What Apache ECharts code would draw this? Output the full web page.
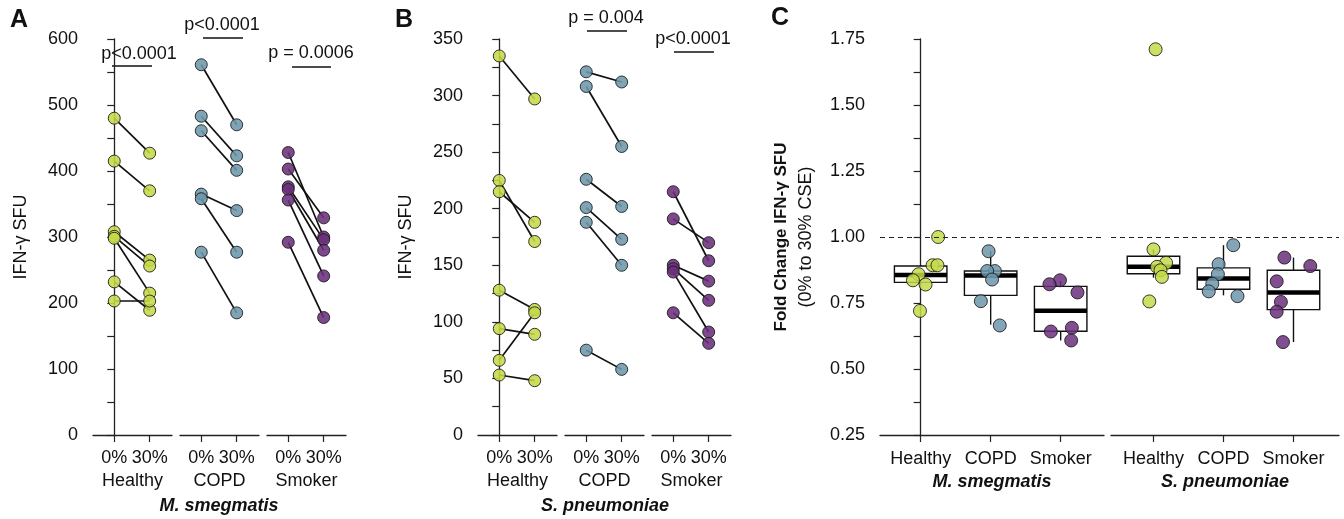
<!DOCTYPE html>
<html>
<head>
<meta charset="utf-8">
<script src="https://cdn.jsdelivr.net/npm/echarts@6/dist/echarts.min.js"></script>
<style>
html,body{margin:0;padding:0;background:#fff}
#main{width:1344px;height:519px}
</style>
</head>
<body>
<div id="main"></div>
<script>
var groups = ['Healthy', 'COPD', 'Smoker'];
var doses = ['0%', '30%'];
var colors = ['#c6da48', '#6c97ab', '#6b2f7c'];

// A: M. smegmatis IFN-g SFU, paired 0% -> 30%
var smeg0 = [
	[480, 415, 308, 301, 298, 232, 203],
	[561, 483, 461, 365, 358, 277],
	[428, 403, 376, 372, 356, 292]
];
var smeg30 = [
	[427, 370, 265, 256, 215, 189, 203],
	[470, 423, 401, 340, 277, 185],
	[300, 329, 296, 280, 241, 178]
];
// B: S. pneumoniae IFN-g SFU
var pneu0 = [
	[335, 225, 215, 128, 94, 66, 53],
	[321, 308, 226, 201, 188, 75],
	[215, 191, 150, 147, 144, 108]
];
var pneu30 = [
	[297, 171, 188, 111, 89, 108, 48],
	[312, 255, 202, 173, 150, 58],
	[154, 170, 136, 119, 91, 81]
];
// C: fold change, box stats [low, q1, median, q3, high]
var smegBox = [[0.82, 0.828, 0.856, 0.890, 0.893], [0.668, 0.779, 0.854, 0.871, 0.946], [0.608, 0.643, 0.721, 0.813, 0.833]];
var pneuBox = [[0.846, 0.861, 0.887, 0.927, 0.953], [0.779, 0.802, 0.843, 0.883, 0.969], [0.602, 0.725, 0.79, 0.874, 0.922]];
var smegFold = [
	[1.00, 0.893, 0.893, 0.859, 0.836, 0.82, 0.72],
	[0.946, 0.871, 0.871, 0.839, 0.757, 0.665],
	[0.836, 0.821, 0.79, 0.656, 0.642, 0.608]
];
var pneuFold = [
	[1.711, 0.953, 0.902, 0.887, 0.874, 0.849, 0.756],
	[0.969, 0.897, 0.859, 0.823, 0.794, 0.776],
	[0.922, 0.89, 0.832, 0.754, 0.717, 0.602]
];
// horizontal jitter of the dots
var smegJitter = [
	[0.25, 0.17, 0.24, -0.03, -0.11, 0.07, -0.01],
	[-0.03, 0.06, -0.05, 0.02, -0.14, 0.13],
	[-0.01, -0.16, 0.24, 0.16, -0.14, 0.15]
];
var pneuJitter = [
	[0.03, 0, 0.18, 0.05, 0.1, 0.12, -0.06],
	[0.14, -0.07, -0.08, -0.16, -0.21, 0.2],
	[-0.13, 0.24, -0.24, -0.18, -0.24, -0.15]
];
var pLabels = [['p<0.0001', 'p<0.0001', 'p = 0.0006'], ['', 'p = 0.004', 'p<0.0001']];

var FONT = 'Liberation Sans, Arial, Helvetica, sans-serif';
var axisCol = '#222';

function yAx(gi, min, max, interval, show, name, gap){
	return {
		type: 'value', gridIndex: gi, min: min, max: max, interval: interval, show: show,
		name: name, nameLocation: 'middle', nameGap: gap,
		nameTextStyle: {fontFamily: FONT, fontSize: 18, color: '#111'},
		axisLine: {show: true, lineStyle: {color: axisCol, width: 1.3}},
		axisTick: {show: true, length: 7, lineStyle: {color: axisCol, width: 1.2}},
		minorTick: {show: true, splitNumber: 2, length: 7, lineStyle: {color: axisCol, width: 1.2}},
		splitLine: {show: false},
		axisLabel: {fontFamily: FONT, fontSize: 18, color: '#111', margin: 15}
	};
}
function xAx(gi, min, max, vals, labels, name, gap){
	return {
		type: 'value', gridIndex: gi, min: min, max: max,
		name: name, nameLocation: 'middle', nameGap: gap,
		nameTextStyle: {fontFamily: FONT, fontSize: 18, color: '#111'},
		axisLine: {show: true, onZero: false, lineStyle: {color: axisCol, width: 1.3}},
		axisTick: {show: true, length: 7, customValues: vals, lineStyle: {color: axisCol, width: 1.2}},
		splitLine: {show: false},
		axisLabel: {fontFamily: FONT, fontSize: 18, color: '#111', margin: 14, customValues: vals,
			formatter: function(v){ return labels[Math.round(v)]; }}
	};
}

var grids = [], xAxes = [], yAxes = [], series = [];
var panelLeft = [93, 478];
var panelMax = [600, 350];
var panelInt = [100, 50];
var pair0 = [smeg0, pneu0], pair30 = [smeg30, pneu30];

for (var p = 0; p < 2; p++) {
	for (var g = 0; g < 3; g++) {
		var gi = p * 3 + g;
		grids.push({left: panelLeft[p] + g * 87, top: 39, width: 79, height: 396});
		xAxes.push(xAx(gi, -0.6, 1.63, [0, 1], doses, groups[g], 36));
		yAxes.push(yAx(gi, 0, panelMax[p], panelInt[p], g == 0, g == 0 ? 'IFN-γ SFU' : '', 63));
		var segs = [], pts = [];
		for (var i = 0; i < pair0[p][g].length; i++) {
			segs.push({coords: [[0, pair0[p][g][i]], [1, pair30[p][g][i]]]});
			pts.push([0, pair0[p][g][i]]);
			pts.push([1, pair30[p][g][i]]);
		}
		series.push({
			type: 'lines', coordinateSystem: 'cartesian2d', xAxisIndex: gi, yAxisIndex: gi,
			data: segs, z: 2, silent: true,
			lineStyle: {color: '#111', width: 1.7, opacity: 1}
		});
		series.push({
			type: 'scatter', xAxisIndex: gi, yAxisIndex: gi, data: pts, z: 3,
			symbolSize: 12,
			itemStyle: {color: colors[g], borderColor: '#1a1a1a', borderWidth: 1, opacity: 0.88}
		});
	}
}

// panel C
var cLeft = [880, 1111], cWidth = [224, 228], cMin = [-0.581, -0.607];
var cBox = [smegBox, pneuBox], cFold = [smegFold, pneuFold], cJit = [smegJitter, pneuJitter];
var cNames = ['M. smegmatis', 'S. pneumoniae'];
for (var c = 0; c < 2; c++) {
	var gi = 6 + c;
	grids.push({left: cLeft[c], top: 39, width: cWidth[c], height: 396});
	var xa = xAx(gi, cMin[c], cMin[c] + cWidth[c] / 70, [0, 1, 2], groups, cNames[c], 38);
	xa.nameTextStyle = {fontFamily: FONT, fontSize: 18, color: '#111', fontWeight: 'bold', fontStyle: 'italic'};
	xa.axisLabel.margin = 15;
	xAxes.push(xa);
	var ya = yAx(gi, 0.25, 1.75, 0.25, c == 0, c == 0 ? '{b|Fold Change IFN-γ SFU}\n{n|(0% to 30% CSE)}' : '', 61);
	ya.axisLabel.formatter = function(v){ return v.toFixed(2); };
	ya.nameTextStyle = {fontFamily: FONT, color: '#111', rich: {
		b: {fontFamily: FONT, fontWeight: 'bold', fontSize: 17, lineHeight: 25, color: '#111'},
		n: {fontFamily: FONT, fontSize: 18, lineHeight: 25, color: '#111'}
	}};
	yAxes.push(ya);
	var boxData = [];
	for (var g = 0; g < 3; g++) boxData.push([g].concat(cBox[c][g]));
	series.push({
		type: 'custom', xAxisIndex: gi, yAxisIndex: gi, data: boxData, z: 1, silent: true,
		encode: {x: 0, y: [1, 2, 3, 4, 5]},
		renderItem: function(params, api){
			var x = api.value(0);
			var lo = api.coord([x, api.value(1)]), q1 = api.coord([x, api.value(2)]);
			var md = api.coord([x, api.value(3)]), q3 = api.coord([x, api.value(4)]);
			var hi = api.coord([x, api.value(5)]);
			var w = api.size([0.75, 0])[0];
			var st = {stroke: '#111', lineWidth: 1.4, fill: null};
			return {type: 'group', children: [
				{type: 'line', shape: {x1: q3[0], y1: q3[1], x2: hi[0], y2: hi[1]}, style: st},
				{type: 'line', shape: {x1: q1[0], y1: q1[1], x2: lo[0], y2: lo[1]}, style: st},
				{type: 'rect', shape: {x: q1[0] - w / 2, y: q3[1], width: w, height: q1[1] - q3[1]},
					style: {fill: '#fff', stroke: '#111', lineWidth: 1.4}},
				{type: 'line', shape: {x1: md[0] - w / 2, y1: md[1], x2: md[0] + w / 2, y2: md[1]},
					style: {stroke: '#000', lineWidth: 4.5}}
			]};
		},
		markLine: {
			silent: true, symbol: 'none', label: {show: false},
			lineStyle: {color: '#222', type: [5, 4], width: 1.2},
			data: [{yAxis: 1}]
		}
	});
	for (var g = 0; g < 3; g++) {
		var pts = [];
		for (var i = 0; i < cFold[c][g].length; i++) pts.push([g + cJit[c][g][i], cFold[c][g][i]]);
		series.push({
			type: 'scatter', xAxisIndex: gi, yAxisIndex: gi, data: pts, z: 3,
			symbolSize: 13,
			itemStyle: {color: colors[g], borderColor: '#1a1a1a', borderWidth: 1, opacity: 0.85}
		});
	}
}

// text and p-value brackets
var gfx = [];
function txt(s, x, y, size, weight, style){
	gfx.push({type: 'text', x: x, y: y, silent: true, style: {
		text: s, align: 'center', verticalAlign: 'middle', fill: '#111',
		font: (style || 'normal') + ' ' + (weight || 'normal') + ' ' + size + 'px ' + FONT
	}});
}
function bracket(x1, x2, y){
	gfx.push({type: 'line', silent: true, shape: {x1: x1, y1: y, x2: x2, y2: y}, style: {stroke: '#111', lineWidth: 1.4}});
}
txt('A', 19, 20, 25, 'bold');
txt('B', 404, 20, 25, 'bold');
txt('C', 780, 18, 25, 'bold');
txt('M. smegmatis', 219, 506, 18, 'bold', 'italic');
txt('S. pneumoniae', 605, 506, 18, 'bold', 'italic');
var pText = [[[139, 54], [222, 25], [311, 53]], [null, [606, 18], [693, 39]]];
var pLine = [[[112, 152, 66], [203, 243, 38], [292, 331, 67]], [null, [587, 627, 31], [674, 714, 52]]];
for (var p = 0; p < 2; p++) {
	for (var g = 0; g < 3; g++) {
		if (!pText[p][g]) continue;
		txt(pLabels[p][g], pText[p][g][0], pText[p][g][1], 18);
		bracket(pLine[p][g][0], pLine[p][g][1], pLine[p][g][2]);
	}
}

var option = {
	animation: false,
	backgroundColor: '#fff',
	textStyle: {fontFamily: FONT},
	grid: grids,
	xAxis: xAxes,
	yAxis: yAxes,
	series: series,
	graphic: gfx
};

var myChart = echarts.init(document.getElementById('main'));
myChart.setOption(option);
</script>
</body>
</html>
